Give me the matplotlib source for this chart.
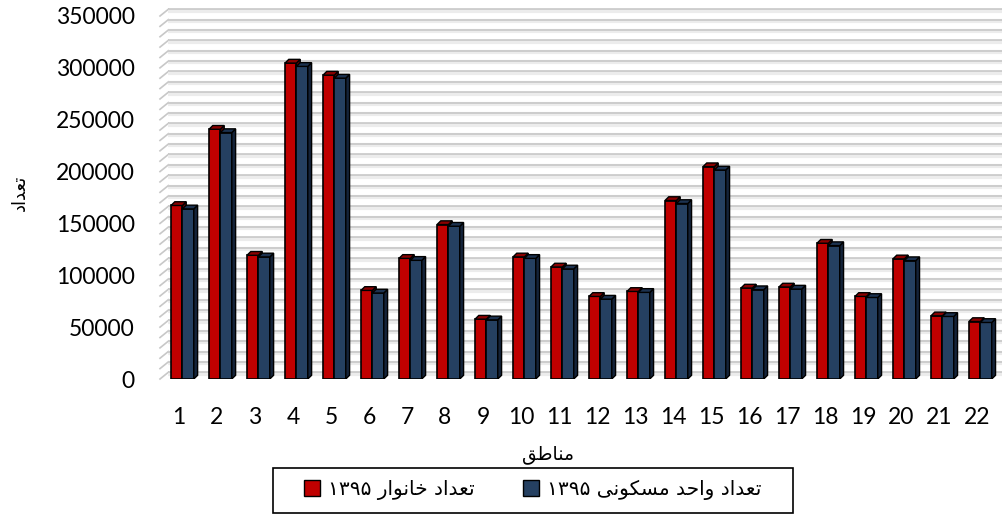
import matplotlib
matplotlib.use("Agg")
import matplotlib.pyplot as plt
from matplotlib.patches import Polygon, Patch, Rectangle
import numpy as np

plt.rcParams['font.family'] = ['Lato', 'DejaVu Sans']

#%% Data
regions = list(range(1, 23))
households = [167300, 240800, 119300, 304600, 293000, 85400, 116300, 148900, 57700, 117700, 108000,
              79600, 84400, 172100, 204700, 87700, 88700, 130900, 79600, 115800, 60900, 55400]
units = [164000, 237600, 117700, 301400, 290100, 82900, 114400, 147300, 57000, 116300, 106100,
         77000, 83500, 169200, 201500, 86100, 86700, 128600, 78600, 114100, 60300, 54500]
yticks = [0, 50000, 100000, 150000, 200000, 250000, 300000, 350000]

# Persian text, pre-shaped (presentation forms, visual order) since matplotlib has no bidi
ylab = "\uFEA9\uFE8D\uFEAA\uFECC\uFE97"            # تعداد
xlab = "\uFED6\uFEC3\uFE8E\uFEE8\uFEE3"            # مناطق
lab_house = "\u06F1\u06F3\u06F9\u06F5 \uFEAD\uFE8D\uFEEE\uFEE7\uFE8E\uFEA7 " + ylab   # تعداد خانوار ۱۳۹۵
lab_unit = ("\u06F1\u06F3\u06F9\u06F5 \uFEF0\uFEE7\uFEEE\uFEDC\uFEB4\uFEE3 "
            "\uFEAA\uFEA3\uFE8D\uFEED " + ylab)     # تعداد واحد مسکونی ۱۳۹۵

red, red_side, red_top = '#C00000', '#6e0000', '#8a0000'
blue, blue_side, blue_top = '#254061', '#14233a', '#1c3250'

fig = plt.figure(figsize=(10.04, 5.19), dpi=100)
ax = fig.add_axes([160/1004, 140/519, 842/1004, 363/519])
ax.set_xlim(0.5, 22.66)
ax.set_ylim(0, 350000)

# back wall gridlines with slanted side-wall ticks
wall_dy = 6500
wall_dx = 0.22
for v in np.arange(0, 350001, 10000):
    ax.plot([0.5, 0.5 + wall_dx], [v, v + wall_dy], color='#c8c8c8', lw=1.2, zorder=1, clip_on=False)
    ax.plot([0.5 + wall_dx, 22.66], [v + wall_dy - 1300, v + wall_dy - 1300], color='#ececec', lw=3,
            zorder=1, clip_on=False, solid_capstyle='butt')
    ax.plot([0.5 + wall_dx, 22.66], [v + wall_dy, v + wall_dy], color='#c4c4c4', lw=1.1, zorder=1,
            clip_on=False, solid_capstyle='butt')


def bar3d(x0, w, h, face, side, top, z):
    ax.bar(x0, h, width=w, align='edge', color=face, edgecolor='black', linewidth=1.2, zorder=z)
    dx, dy = 0.1, 3600
    ax.add_patch(Polygon([(x0 + w, 0), (x0 + w + dx, dy), (x0 + w + dx, h + dy), (x0 + w, h)],
                         closed=True, facecolor=side, edgecolor='black', lw=1.0, zorder=z))
    ax.add_patch(Polygon([(x0, h), (x0 + dx, h + dy), (x0 + w + dx, h + dy), (x0 + w, h)],
                         closed=True, facecolor=top, edgecolor='black', lw=1.0, zorder=z))


for i, r in enumerate(regions):
    bar3d(r - 0.21, 0.30, households[i], red, red_side, red_top, 3)
    bar3d(r + 0.09, 0.30, units[i], blue, blue_side, blue_top, 4)

for s in ax.spines.values():
    s.set_visible(False)
ax.set_xticks(regions)
ax.set_xticklabels([str(r) for r in regions])
ax.set_yticks(yticks)
ax.set_yticklabels([str(t) for t in yticks])
ax.tick_params(axis='x', length=0, pad=20, labelsize=16.5)
ax.tick_params(axis='y', length=0, pad=18, labelsize=16.5)

fig.text(20/1004, 1 - 193/519, ylab, rotation=90, ha='center', va='center', fontsize=13,
         family='DejaVu Sans')
fig.text(548/1004, 1 - 455/519, xlab, ha='center', va='center', fontsize=13.5, family='DejaVu Sans')

handles = [Patch(facecolor=red, edgecolor='black', lw=1.0),
           Patch(facecolor=blue, edgecolor='black', lw=1.0)]
leg = fig.legend(handles, [lab_house, lab_unit], loc='center', ncol=2,
                 bbox_to_anchor=(533/1004, 1 - 490/519), frameon=False,
                 handlelength=0.8, handleheight=0.8, handletextpad=0.4, columnspacing=2.4,
                 prop={'family': 'DejaVu Sans', 'size': 14.5})
fig.patches.append(Rectangle((273/1004, 1 - 513/519), 520/1004, 45/519, transform=fig.transFigure,
                             facecolor='none', edgecolor='black', lw=1.2))

fig.savefig('out.png', dpi=100)
